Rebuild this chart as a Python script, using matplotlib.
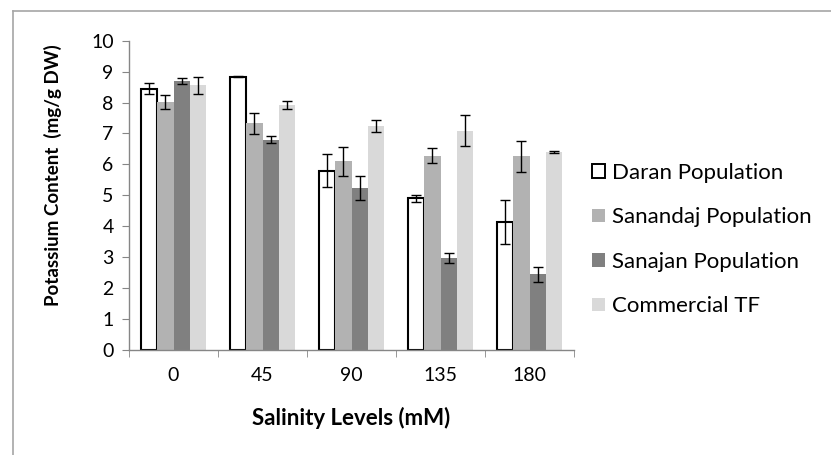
import numpy as np
import matplotlib
matplotlib.use('Agg')
import matplotlib.pyplot as plt
from matplotlib.patches import Patch
from matplotlib.lines import Line2D

plt.rcParams['font.family'] = ['Lato', 'DejaVu Sans']

# salinity levels (mM)
levels = ['0', '45', '90', '135', '180']
series = ['Daran Population', 'Sanandaj Population', 'Sanajan Population', 'Commercial TF']

daran = [8.45, 8.84, 5.80, 4.90, 4.15]
daran_err = [0.17, 0.02, 0.53, 0.12, 0.71]
sanandaj = [8.01, 7.33, 6.10, 6.28, 6.27]
sanandaj_err = [0.22, 0.34, 0.47, 0.25, 0.50]
sanajan = [8.70, 6.80, 5.23, 2.96, 2.45]
sanajan_err = [0.11, 0.12, 0.38, 0.16, 0.24]
commercial = [8.56, 7.93, 7.23, 7.09, 6.40]
commercial_err = [0.28, 0.13, 0.19, 0.50, 0.03]

values = [daran, sanandaj, sanajan, commercial]
errors = [daran_err, sanandaj_err, sanajan_err, commercial_err]
fills = ['white', '#B2B2B2', '#808080', '#D9D9D9']
edges = ['black', '#B2B2B2', '#808080', '#D9D9D9']

fig = plt.figure(figsize=(8.31, 4.55), dpi=100)
ax = fig.add_axes([129 / 831, 105 / 455, 445 / 831, 309.3 / 455])

x = np.arange(len(levels))
w = 0.184
for i in range(4):
    pos = x + (i - 1.5) * w
    lw = 1.5 if i == 0 else 0
    ax.bar(pos, values[i], w, color=fills[i], edgecolor=edges[i], linewidth=lw, zorder=2)
    ax.errorbar(pos, values[i], yerr=errors[i], fmt='none', ecolor='black',
                elinewidth=1.0, capsize=3.8, capthick=1.0, zorder=3)

ax.set_xlim(-0.5, len(levels) - 0.5)
ax.set_ylim(0, 10)
ax.set_yticks(range(0, 11))
ax.set_xticks(x)
ax.set_xticklabels(levels)
ax.set_xticks(np.arange(len(levels) + 1) - 0.5, minor=True)
ax.tick_params(axis='x', which='major', length=0, pad=12, labelsize=14)
ax.tick_params(axis='x', which='minor', length=5, color='#868686', direction='out')
ax.tick_params(axis='y', length=5, color='#868686', direction='out', pad=6, labelsize=14)

for s in ['top', 'right']:
    ax.spines[s].set_visible(False)
for s in ['left', 'bottom']:
    ax.spines[s].set_color('#868686')
    ax.spines[s].set_linewidth(1.0)

ax.set_xlabel('Salinity Levels (mM)', fontsize=16, fontweight='bold')
ax.set_ylabel('Potassium Content  (mg/g DW)', fontsize=13.5, fontweight='bold')
ax.xaxis.set_label_coords((351 - 129) / 445, (455 - 418 - 105) / 309.3)
ax.xaxis.label.set_va('center')
ax.yaxis.set_label_coords((53 - 129) / 445, (455 - 175 - 105) / 309.3)
ax.yaxis.label.set_va('center')

handles = [Patch(facecolor=fills[i], edgecolor=edges[i], linewidth=1.4 if i == 0 else 0)
           for i in range(4)]
fig.legend(handles, series, loc='upper left', bbox_to_anchor=(592 / 831, 1 - 163 / 455),
           frameon=False, fontsize=16, handlelength=0.57, handleheight=0.57,
           handletextpad=0.35, labelspacing=1.1, borderpad=0, borderaxespad=0)

# outer chart border (only left and top are inside the picture)
fig.add_artist(Line2D([12.5 / 831, 12.5 / 831], [0, 1 - 10.5 / 455],
                      transform=fig.transFigure, color='#A6A6A6', linewidth=1.2))
fig.add_artist(Line2D([12.5 / 831, 1], [1 - 10.5 / 455, 1 - 10.5 / 455],
                      transform=fig.transFigure, color='#A6A6A6', linewidth=1.2))

fig.savefig('out.png', dpi=100)
